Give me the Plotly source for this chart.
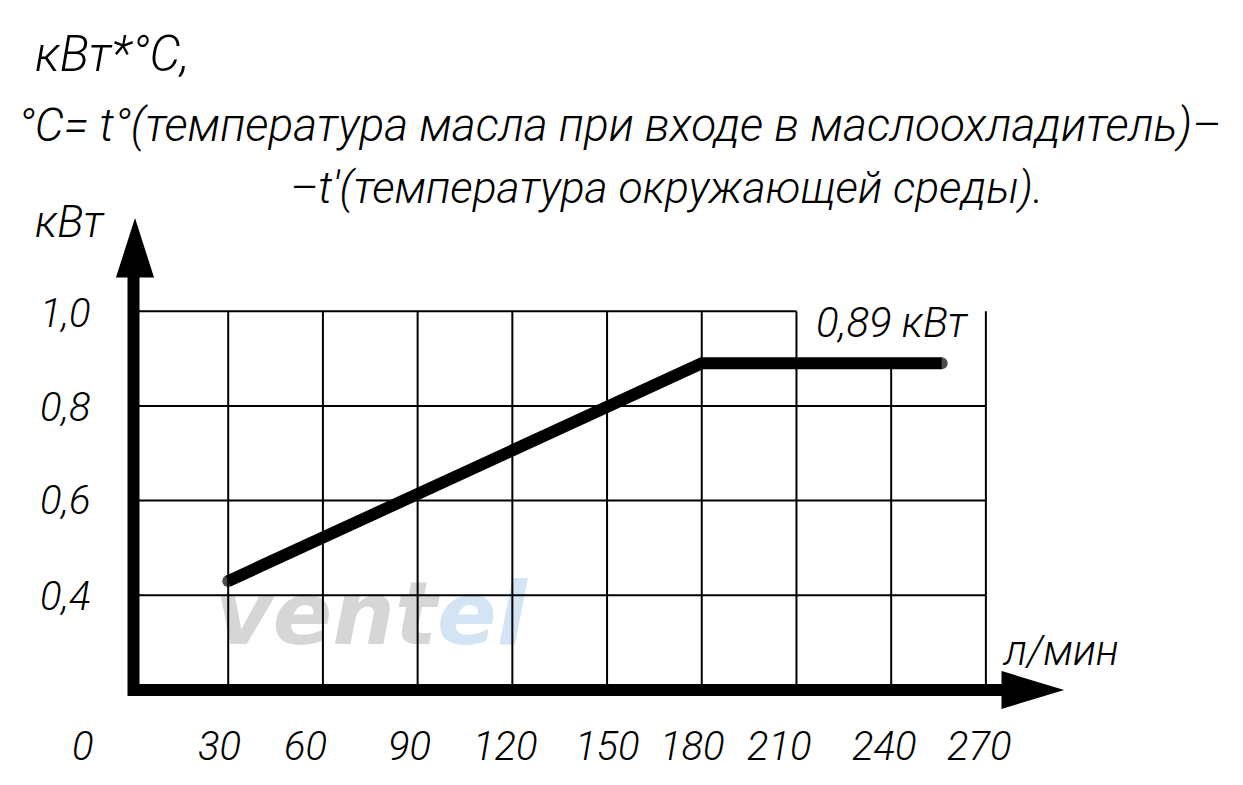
import plotly.graph_objects as go

# ---------------- data ----------------
flow_lpm = [30, 180, 256]          # л/мин
power_kw = [0.43, 0.89, 0.89]      # кВт
x_grid = [30, 60, 90, 120, 150, 180, 210, 240, 270]
y_grid = [0.4, 0.6, 0.8, 1.0]
x_tick_labels = ["0", "30", "60", "90", "120", "150", "180", "210", "240", "270"]
y_tick_labels = ["1,0", "0,8", "0,6", "0,4"]
plateau_label = "0,89 кВт"
title_lines = [
    "кВт*°С,",
    "°С= t°(температура масла при входе в маслоохладитель)–",
    "–t'(температура окружающей среды).",
]

# ---------------- layout geometry (pixels) ----------------
W, H = 1243, 785
X0_PX, X_SCALE = 133.5, 3.157        # px of x=0, px per unit
Y0_PX, Y0_VAL, Y_SCALE = 690.0, 0.2, 473.5  # px of axis line, its value, px per unit


def px2x(px):
    return (px - X0_PX) / X_SCALE


def px2y(py):
    return Y0_VAL + (Y0_PX - py) / Y_SCALE


FONT = "Roboto, Liberation Sans, sans-serif"

fig = go.Figure()

# watermark (drawn first, below grid)
fig.add_trace(go.Scatter(
    x=[px2x(437), px2x(437)], y=[px2y(622), px2y(622)],
    mode="text", text=["vent", "el"],
    textposition=["middle left", "middle right"],
    textfont=dict(family="DejaVu Sans", size=88, color=["#d6d6d6", "#d3e5f4"],
                  weight="bold", style="italic"),
    hoverinfo="skip", showlegend=False,
))

# grid lines
gx, gy = [], []
for xv in x_grid:
    top = power_kw[-1] if xv == 240 else y_grid[-1]
    gx += [xv, xv, None]
    gy += [Y0_VAL, top, None]
for yv in y_grid:
    right = 210 if yv == 1.0 else x_grid[-1]
    gx += [0, right, None]
    gy += [yv, yv, None]
fig.add_trace(go.Scatter(x=gx, y=gy, mode="lines",
                         line=dict(color="black", width=2),
                         hoverinfo="skip", showlegend=False))

# data line
fig.add_trace(go.Scatter(
    x=flow_lpm, y=power_kw, mode="lines+markers",
    line=dict(color="black", width=12),
    marker=dict(size=[12, 0, 12], color="black", line=dict(width=0)),
    hoverinfo="skip", showlegend=False,
))

# axes with arrowheads
shapes = [
    dict(type="path", xref="x", yref="y",
         path=f"M 0,{px2y(275)} L 0,{Y0_VAL} L {px2x(1005)},{Y0_VAL}",
         line=dict(color="black", width=12)),
    dict(type="path", xref="x", yref="y",
         path=(f"M {px2x(118)},{px2y(276)} L {px2x(135)},{px2y(223)} "
               f"L {px2x(152)},{px2y(276)} Z"),
         fillcolor="black", line=dict(color="black", width=3)),
    dict(type="path", xref="x", yref="y",
         path=(f"M {px2x(1003)},{px2y(673)} L {px2x(1059)},{px2y(690)} "
               f"L {px2x(1003)},{px2y(707)} Z"),
         fillcolor="black", line=dict(color="black", width=3)),
]

ann = []


def txt(text, px, py, size, anchor="center"):
    ann.append(dict(text=text, xref="paper", yref="paper",
                    x=px / W, y=1 - py / H, xanchor=anchor, yanchor="middle",
                    showarrow=False,
                    font=dict(family=FONT, size=size, color="black",
                              style="italic", weight=300)))


# titles
txt(title_lines[0], 33, 55, 49, "left")
txt(title_lines[1], 16, 125, 46, "left")
txt(title_lines[2], 288, 188, 44.5, "left")

# axis labels
txt("кВт", 70, 222, 44)
txt("л/мин", 1060, 650, 42)
txt(plateau_label, 892, 322, 42)

# tick labels
x_label_px = [83, 219, 305, 409, 505, 607, 692, 779, 884, 979]
for lab, px in zip(x_tick_labels, x_label_px):
    txt(lab, px, 746, 40)
y_label_py = [313, 407, 500, 596]
for lab, py in zip(y_tick_labels, y_label_py):
    txt(lab, 65, py, 40)

fig.update_layout(
    width=W, height=H,
    margin=dict(l=0, r=0, t=0, b=0),
    paper_bgcolor="white", plot_bgcolor="white",
    xaxis=dict(range=[px2x(0), px2x(W)], visible=False, fixedrange=True),
    yaxis=dict(range=[px2y(H), px2y(0)], visible=False, fixedrange=True),
    shapes=shapes, annotations=ann, showlegend=False,
)

fig.write_html("out.html", config={"displayModeBar": False},
               post_script="document.body.style.margin='0';")
